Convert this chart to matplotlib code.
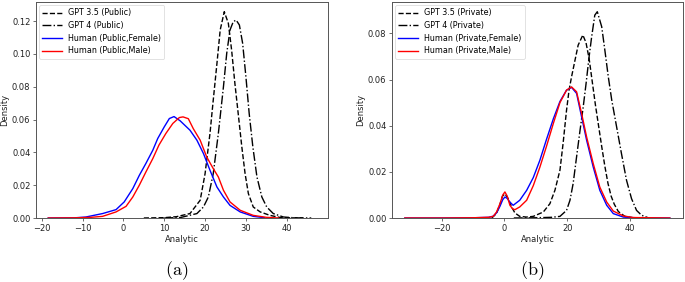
import matplotlib
matplotlib.use("Agg")
import matplotlib.pyplot as plt

plt.rcParams['mathtext.fontset'] = 'cm'

# ---- Panel (a): Public ----
gpt35_pub_x = [5, 10, 13, 16.3, 18.8, 20.0, 21.2, 22.0, 22.9, 23.7, 24.7, 25.7, 26.5, 27.3, 28.2, 29.0, 29.8, 30.6, 31.8, 33.5, 35.9, 38.4, 41, 44]
gpt35_pub_y = [0, 0.0002, 0.0008, 0.0027, 0.0108, 0.027, 0.0515, 0.0718, 0.094, 0.1145, 0.1257, 0.1186, 0.1023, 0.082, 0.0616, 0.0433, 0.027, 0.0149, 0.0067, 0.0037, 0.0016, 0.0003, 0.0001, 0]

gpt4_pub_x = [10, 14, 18.0, 19.6, 20.8, 22.0, 23.25, 24.5, 25.3, 26.1, 26.9, 27.6, 28.4, 29.2, 30.0, 30.8, 31.7, 32.7, 33.9, 35.1, 36.7, 39.2, 42, 46]
gpt4_pub_y = [0, 0.0003, 0.0027, 0.0067, 0.0128, 0.027, 0.0515, 0.080, 0.1003, 0.1145, 0.1196, 0.1206, 0.1176, 0.1064, 0.086, 0.0637, 0.0433, 0.025, 0.0128, 0.0067, 0.0027, 0.0006, 0.0001, 0]

hum_pub_f_x = [-18.4, -12, -9.2, -5.1, -1.8, 0.2, 2.3, 3.9, 5.5, 7.2, 8.4, 10.0, 11.25, 12.4, 13.9, 16.3, 18.0, 19.6, 21.2, 22.9, 24.5, 26.1, 28.6, 31.8, 34.5]
hum_pub_f_y = [0, 0.0001, 0.0006, 0.0027, 0.0051, 0.0098, 0.0179, 0.026, 0.0332, 0.0413, 0.0484, 0.0555, 0.0606, 0.0618, 0.0592, 0.0535, 0.0474, 0.0393, 0.0291, 0.0189, 0.0128, 0.0077, 0.0037, 0.001, 0.0002]

hum_pub_m_x = [-18.4, -12, -8, -5.1, -1.8, 0.65, 2.3, 3.9, 5.5, 7.2, 8.7, 10.4, 12.1, 13.7, 14.6, 15.9, 17.1, 18.8, 20.4, 22.0, 23.25, 24.5, 26.1, 28.6, 31.8, 35, 38]
hum_pub_m_y = [0, 0.0001, 0.0004, 0.001, 0.0037, 0.0071, 0.0128, 0.020, 0.028, 0.0362, 0.0444, 0.0515, 0.0576, 0.0612, 0.0616, 0.0605, 0.0545, 0.0474, 0.0372, 0.0301, 0.025, 0.0169, 0.0098, 0.0047, 0.0016, 0.0004, 0]

# ---- Panel (b): Private ----
gpt35_priv_x = [-4, -2.5, -1.4, -0.6, 0.2, 1.2, 2.3, 3.35, 4.9, 7, 9.2, 12.4, 14.5, 16.1, 17.7, 18.7, 19.8, 20.6, 21.4, 22.5, 23.5, 25.0, 26.0, 27.0, 28.0, 29.0, 30.0, 31.0, 32.0, 33.0, 34.0, 35.0, 36.3, 38.4, 41, 44]
gpt35_priv_y = [0, 0.002, 0.006, 0.0095, 0.0105, 0.0084, 0.0048, 0.0022, 0.0007, 0.0004, 0.0007, 0.0026, 0.0062, 0.012, 0.0207, 0.0323, 0.0467, 0.0554, 0.0612, 0.0684, 0.0749, 0.0793, 0.0760, 0.0690, 0.0590, 0.0490, 0.0400, 0.0310, 0.0225, 0.0150, 0.0095, 0.0060, 0.0028, 0.0007, 0.0001, 0]

gpt4_priv_x = [3, 10, 15, 17.7, 19.8, 20.9, 21.9, 23.0, 24.1, 25.1, 26.0, 27.0, 27.8, 28.8, 29.6, 31.0, 32.0, 33.1, 34.2, 35.75, 37.3, 38.9, 40.5, 42.1, 43.7, 45.8]
gpt4_priv_y = [0, 0.0001, 0.0003, 0.0007, 0.0033, 0.0077, 0.0149, 0.0265, 0.038, 0.048, 0.058, 0.070, 0.0785, 0.0879, 0.0894, 0.0829, 0.0728, 0.0612, 0.0511, 0.0395, 0.0279, 0.0164, 0.0084, 0.0033, 0.0012, 0.0001]

hum_priv_f_x = [-31.7, -20, -10, -5, -3.55, -2.5, -1.4, -0.5, 0.17, 0.9, 1.76, 2.8, 4.9, 7.1, 9.2, 11.3, 13.4, 15.6, 17.7, 19.8, 21.4, 23.0, 24.6, 26.2, 28.3, 30.4, 32.6, 34.7, 37.9, 42, 52.7]
hum_priv_f_y = [0, 0, 0.0001, 0.0003, 0.0008, 0.0022, 0.0051, 0.0080, 0.0091, 0.0085, 0.0069, 0.0055, 0.0077, 0.012, 0.0175, 0.025, 0.034, 0.043, 0.0505, 0.0554, 0.0566, 0.054, 0.0438, 0.0337, 0.0221, 0.012, 0.0055, 0.0019, 0.0004, 0.0001, 0]

hum_priv_m_x = [-31.7, -20, -10, -5, -3.55, -2.5, -1.4, -0.5, 0.17, 0.9, 1.76, 2.6, 3.35, 4.9, 7.1, 9.2, 11.3, 13.4, 15.6, 17.7, 19.8, 21.4, 23.0, 24.6, 26.2, 28.3, 30.4, 32.6, 34.7, 37.9, 41, 52.7]
hum_priv_m_y = [0, 0, 0.0001, 0.0003, 0.0007, 0.0026, 0.0062, 0.0100, 0.0113, 0.0095, 0.0055, 0.0040, 0.0036, 0.0048, 0.0077, 0.014, 0.022, 0.031, 0.041, 0.0500, 0.0554, 0.0568, 0.0547, 0.0453, 0.0351, 0.0236, 0.0134, 0.0069, 0.003, 0.0009, 0.0002, 0]

labels_a = ["GPT 3.5 (Public)", "GPT 4 (Public)", "Human (Public,Female)", "Human (Public,Male)"]
labels_b = ["GPT 3.5 (Private)", "GPT 4 (Private)", "Human (Private,Female)", "Human (Private,Male)"]
xticks_a = [-20, -10, 0, 10, 20, 30, 40]
yticks_a = [0.00, 0.02, 0.04, 0.06, 0.08, 0.10, 0.12]
xticks_b = [-20, 0, 20, 40]
yticks_b = [0.00, 0.02, 0.04, 0.06, 0.08]

W, H = 685, 282
fig = plt.figure(figsize=(W / 100, H / 100), dpi=100)
ax1 = fig.add_axes([36 / W, 64 / H, 292 / W, 216 / H])
ax2 = fig.add_axes([392 / W, 64 / H, 291 / W, 216 / H])

FS = 6.0
LW = 1.0
SPINE = '#555555'


def draw(ax, series, labels, xlim, ylim, xticks, yticks):
    styles = [dict(color='k', ls='--'), dict(color='k', ls='-.'),
              dict(color='blue', ls='-'), dict(color='red', ls='-')]
    for (xs, ys), lab, st in zip(series, labels, styles):
        ax.plot(xs, ys, lw=LW, label=lab, **st)
    ax.set_xlim(*xlim)
    ax.set_ylim(*ylim)
    ax.set_xticks(xticks)
    ax.set_yticks(yticks)
    ax.set_yticklabels([f"{v:.2f}" for v in yticks])
    ax.tick_params(labelsize=FS, width=0.6, length=2.5, pad=1.5, color=SPINE, labelcolor='#222222')
    for s in ax.spines.values():
        s.set_color(SPINE)
        s.set_linewidth(0.7)
    ax.set_xlabel("Analytic", fontsize=FS, labelpad=1.5, color='#222222')
    ax.set_ylabel("Density", fontsize=FS, labelpad=2, color='#222222')
    leg = ax.legend(loc='upper left', fontsize=5.8, frameon=True, fancybox=True,
                    borderpad=0.4, labelspacing=0.45, handlelength=2.4, borderaxespad=0.4)
    leg.get_frame().set_linewidth(0.5)
    leg.get_frame().set_edgecolor('#cccccc')


draw(ax1,
     [(gpt35_pub_x, gpt35_pub_y), (gpt4_pub_x, gpt4_pub_y),
      (hum_pub_f_x, hum_pub_f_y), (hum_pub_m_x, hum_pub_m_y)],
     labels_a, (-21.4, 50.1), (0, 0.1316), xticks_a, yticks_a)
draw(ax2,
     [(gpt35_priv_x, gpt35_priv_y), (gpt4_priv_x, gpt4_priv_y),
      (hum_priv_f_x, hum_priv_f_y), (hum_priv_m_x, hum_priv_m_y)],
     labels_b, (-35.8, 56.9), (0, 0.0936), xticks_b, yticks_b)

fig.text(177 / W, 1 - 271 / H, r'$\mathrm{(a)}$', fontsize=13, ha='center', va='center')
fig.text(532 / W, 1 - 271 / H, r'$\mathrm{(b)}$', fontsize=13, ha='center', va='center')

fig.savefig("out.png", dpi=100)
